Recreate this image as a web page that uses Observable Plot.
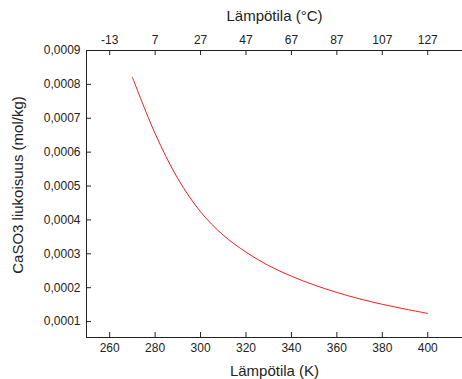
<!DOCTYPE html>
<html>
<head>
<meta charset="utf-8">
<script src="https://cdn.jsdelivr.net/npm/d3@7"></script>
<script src="https://cdn.jsdelivr.net/npm/@observablehq/plot@0.6"></script>
<style>
  html, body { margin: 0; padding: 0; background: #fff; }
  #chart svg { display: block; font-family: "Liberation Sans", Arial, sans-serif; }
</style>
</head>
<body>
<div id="chart"></div>
<script>
// Temperature (K) and CaSO3 solubility (mol/kg)
const kelvin = [270, 280, 290, 300, 310, 320, 330, 340, 350, 360, 370, 380, 390, 400];
const solubility = [0.000821, 0.000655, 0.000522, 0.000424, 0.000355, 0.000305, 0.000265,
                    0.000234, 0.000208, 0.000186, 0.000167, 0.000151, 0.000137, 0.000124];

const kelvinTicks = [260, 280, 300, 320, 340, 360, 380, 400];
const solubilityTicks = [0.0001, 0.0002, 0.0003, 0.0004, 0.0005, 0.0006, 0.0007, 0.0008, 0.0009];

const data = kelvin.map((k, i) => ({k, s: solubility[i]}));

const W = 462, H = 379;
const mTop = 50, mBottom = 42, mLeft = 86, mRight = 0;
const frameH = H - mTop - mBottom;
const frameW = W - mLeft - mRight;
const xDomain = [249.8, 415.3];
const yDomain = [0.000053, 0.0009];
const axisColor = "#222";
const fmtY = d => d.toFixed(4).replace(".", ",");

const chart = Plot.plot({
  width: W,
  height: H,
  marginTop: mTop,
  marginBottom: mBottom,
  marginLeft: mLeft,
  marginRight: mRight,
  style: {fontSize: "12px", color: axisColor, background: "#fff"},
  x: {domain: xDomain},
  y: {domain: yDomain},
  marks: [
    // frame lines: left, top, bottom
    Plot.ruleX([xDomain[0]], {stroke: axisColor}),
    Plot.ruleY([yDomain[1]], {stroke: axisColor}),
    Plot.ruleY([yDomain[0]], {stroke: axisColor}),
    // inward tick marks
    Plot.tickX(kelvinTicks, {x: d => d, insetTop: frameH - 5, stroke: axisColor}),
    Plot.tickX(kelvinTicks, {x: d => d, insetBottom: frameH - 5, stroke: axisColor}),
    Plot.tickY(solubilityTicks, {y: d => d, insetRight: frameW - 5, stroke: axisColor}),
    // bottom axis in kelvin
    Plot.axisX(kelvinTicks, {
      anchor: "bottom", tickSize: 0, tickPadding: 6,
      label: "Lämpötila (K)", labelAnchor: "center", labelOffset: 38, labelArrow: false,
      fontSize: 12
    }),
    // top axis in degrees Celsius
    Plot.axisX(kelvinTicks, {
      anchor: "top", tickSize: 0, tickPadding: 7,
      tickFormat: d => String(d - 273),
      label: "Lämpötila (°C)", labelAnchor: "center", labelOffset: 40, labelArrow: false,
      fontSize: 12
    }),
    // left axis
    Plot.axisY(solubilityTicks, {
      anchor: "left", tickSize: 0, tickPadding: 6,
      tickFormat: fmtY,
      label: null
    }),
    Plot.text(["CaSO3 liukoisuus (mol/kg)"], {
      frameAnchor: "left", textAnchor: "middle", rotate: -90, dx: -68, dy: -9,
      fontSize: 15, fill: axisColor
    }),
    // solubility curve
    Plot.line(data, {x: "k", y: "s", stroke: "#ff1a1a", strokeWidth: 1, curve: "catmull-rom"})
  ]
});

// larger font for axis titles
chart.querySelectorAll("[aria-label='x-axis label'] text").forEach(t => t.setAttribute("font-size", "15"));
document.getElementById("chart").appendChild(chart);
</script>
</body>
</html>
